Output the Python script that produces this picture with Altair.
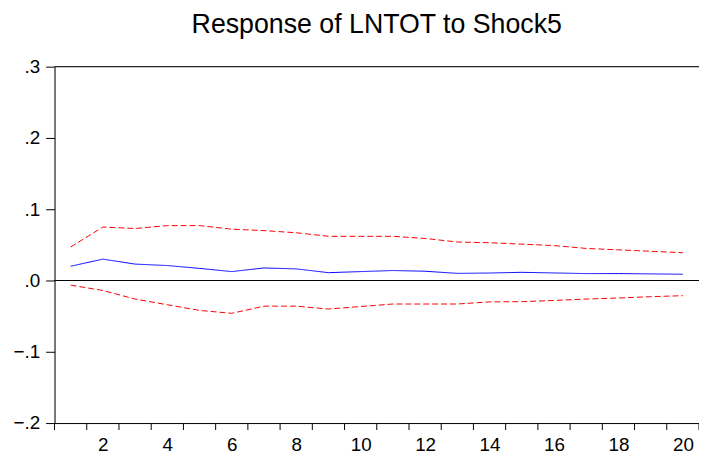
import altair as alt
import pandas as pd

periods = list(range(1, 21))
response = [0.020, 0.030, 0.023, 0.021, 0.017, 0.0125, 0.0176, 0.0163, 0.011, 0.0125,
            0.014, 0.013, 0.010, 0.0105, 0.0115, 0.0106, 0.0097, 0.0097, 0.0093, 0.0088]
upper = [0.047, 0.075, 0.073, 0.077, 0.077, 0.072, 0.070, 0.067, 0.062, 0.062,
         0.062, 0.059, 0.054, 0.053, 0.051, 0.049, 0.045, 0.043, 0.041, 0.039]
lower = [-0.0065, -0.014, -0.026, -0.034, -0.042, -0.046, -0.036, -0.036, -0.040, -0.0365,
         -0.033, -0.033, -0.033, -0.030, -0.0297, -0.028, -0.026, -0.0246, -0.0227, -0.0213]
x_labels = [2, 4, 6, 8, 10, 12, 14, 16, 18, 20]
x_ticks = [i + 0.5 for i in range(0, 21)]
y_ticks = [-0.2, -0.1, 0.0, 0.1, 0.2, 0.3]
title_text = "Response of LNTOT to Shock5"

W, H = 651, 360
FONT = "Liberation Sans"

rows = []
for name, vals in [("upper", upper), ("response", response), ("lower", lower)]:
    for p, v in zip(periods, vals):
        rows.append({"period": p, "value": v, "series": name})
df = pd.DataFrame(rows)

xs = alt.Scale(domain=[0.5, 20.5], nice=False, zero=False)
ys = alt.Scale(domain=[-0.2, 0.3], nice=False, zero=False)

lines = alt.Chart(df).mark_line(strokeWidth=1).encode(
    x=alt.X("period:Q", scale=xs,
            axis=alt.Axis(values=x_labels, title=None, grid=False, ticks=False,
                          tickSize=0, labelPadding=13, labelFontSize=19, labelFont=FONT,
                          labelColor="black", domainColor="black", labelFlush=False)),
    y=alt.Y("value:Q", scale=ys,
            axis=alt.Axis(values=y_ticks, title=None, grid=False, tickSize=9,
                          tickColor="black", domainColor="black", labelPadding=6,
                          labelFontSize=19, labelFont=FONT, labelColor="black",
                          labelExpr="replace(format(datum.value, '.1f'), '0.', '.')")),
    color=alt.Color("series:N", legend=None,
                    scale=alt.Scale(domain=["upper", "response", "lower"],
                                    range=["#FF0000", "#0000FF", "#FF0000"])),
    strokeDash=alt.StrokeDash("series:N", legend=None,
                              scale=alt.Scale(domain=["upper", "response", "lower"],
                                              range=[[6, 3], [1, 0], [6, 3]])),
    detail="series:N",
)

zero = alt.Chart(pd.DataFrame({"y": [0.0]})).mark_rule(color="black", strokeWidth=1).encode(
    y=alt.Y("y:Q", scale=ys)
)
top = alt.Chart(pd.DataFrame({"y": [0.3]})).mark_rule(color="black", strokeWidth=1).encode(
    y=alt.Y("y:Q", scale=ys)
)
ticks = alt.Chart(pd.DataFrame({"x": x_ticks})).mark_rule(color="black", strokeWidth=1).encode(
    x=alt.X("x:Q", scale=xs),
    y=alt.value(H),
    y2=alt.value(H + 7),
)

chart = alt.layer(lines, zero, top, ticks).properties(
    width=W, height=H,
    title=alt.TitleParams(title_text, anchor="middle", fontSize=27, font=FONT,
                          fontWeight="normal", color="black", offset=19),
    autosize=alt.AutoSizeParams(type="none"),
    padding={"left": 47, "top": 57, "right": 0, "bottom": 30},
).configure_view(strokeWidth=0).configure(background="white")

chart.save("out.html", embed_options={"renderer": "svg", "actions": False})
